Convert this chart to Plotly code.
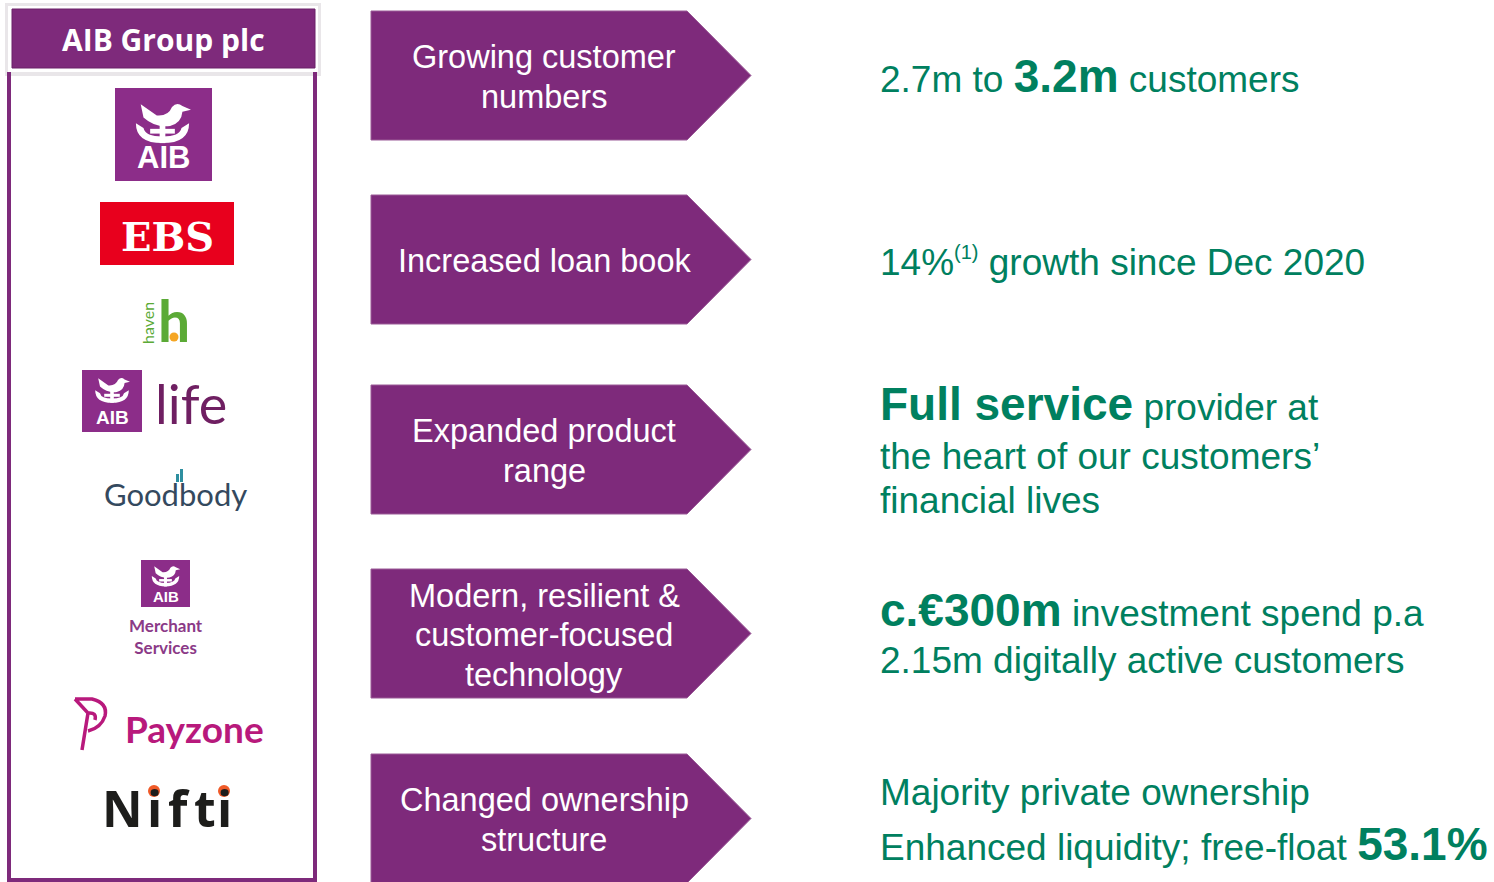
import plotly.graph_objects as go

W, H = 1494, 882
PURPLE = "#7E2A7B"
GREEN = "#00805F"
SANS = "Liberation Sans, Arial, sans-serif"

# ---------------- content ----------------
header_title = "AIB Group plc"

arrow_labels = [
    ["Growing customer", "numbers"],
    ["Increased loan book"],
    ["Expanded product", "range"],
    ["Modern, resilient &", "customer-focused", "technology"],
    ["Changed ownership", "structure"],
]

B = "<b><span style='font-size:46px'>{}</span></b>"
outcome_lines = [
    ["2.7m to " + B.format("3.2m") + " customers"],
    ["14%<sup><span style='font-size:20px'>(1)</span></sup> growth since Dec 2020"],
    [B.format("Full service") + " provider at", "the heart of our customers’", "financial lives"],
    [B.format("c.€300m") + " investment spend p.a", "2.15m digitally active customers"],
    ["Majority private ownership", "Enhanced liquidity; free-float " + B.format("53.1%")],
]

brand_names = ["AIB", "EBS", "haven", "life", "Goodbody", "Merchant<br>Services", "Payzone"]
nifti_letters = ["N", "i", "f", "t", "i"]

# ---------------- layout constants ----------------
arrow_tops = [11, 195, 385, 569, 754]
arrow_h = 129
arrow_x0, arrow_x1, arrow_tip = 371, 687, 751
arrow_text_x = 544
arrow_line_gap = 39.5

outcome_x = 878
outcome_y = [[76], [262], [404, 456, 500], [610, 660], [792, 844]]

shapes = []
annotations = []


def ann(x, y, text, size, color, family=SANS, xanchor="center", angle=0):
    annotations.append(dict(
        x=x, y=y, xref="x", yref="y", text=text, showarrow=False,
        xanchor=xanchor, yanchor="middle", textangle=angle,
        font=dict(size=size, color=color, family=family)))


def rect(x0, y0, x1, y1, fill, line=None, lw=0):
    shapes.append(dict(type="rect", xref="x", yref="y", x0=x0, y0=y0, x1=x1, y1=y1,
                       fillcolor=fill, line=dict(width=lw, color=line or fill), layer="above"))


def path(d, fill=None, line=None, lw=0):
    s = dict(type="path", xref="x", yref="y", path=d, layer="above",
             line=dict(width=lw, color=line or "rgba(0,0,0,0)"))
    if fill:
        s["fillcolor"] = fill
    shapes.append(s)


def circle(cx, cy, r, fill):
    shapes.append(dict(type="circle", xref="x", yref="y", x0=cx - r, y0=cy - r,
                       x1=cx + r, y1=cy + r, fillcolor=fill, line=dict(width=0), layer="above"))


def aib_mark(x0, y0, s):
    """White AIB ark-and-dove mark inside a square at (x0,y0) of size s."""
    def P(u, v):
        return f"{x0 + u * s:.1f},{y0 + v * s:.1f}"
    bird = (f"M {P(0.30,0.31)} Q {P(0.42,0.42)} {P(0.58,0.40)} Q {P(0.70,0.37)} {P(0.71,0.25)} "
            f"L {P(0.80,0.23)} L {P(0.71,0.19)} Q {P(0.65,0.14)} {P(0.60,0.20)} "
            f"Q {P(0.56,0.30)} {P(0.44,0.29)} L {P(0.27,0.17)} Z")
    boat = (f"M {P(0.22,0.37)} Q {P(0.22,0.58)} {P(0.50,0.58)} Q {P(0.78,0.58)} {P(0.78,0.37)} "
            f"L {P(0.70,0.42)} Q {P(0.68,0.51)} {P(0.50,0.51)} Q {P(0.32,0.51)} {P(0.30,0.42)} Z")
    path(bird, fill="white")
    path(boat, fill="white")
    rect(x0 + 0.47 * s, y0 + 0.37 * s, x0 + 0.53 * s, y0 + 0.58 * s, "white")
    rect(x0 + 0.37 * s, y0 + 0.43 * s, x0 + 0.63 * s, y0 + 0.48 * s, "white")


# ---------------- left panel ----------------
rect(5, 3, 321, 76, "#e9e6e9")
rect(8, 6, 318, 72, "#ffffff")
rect(12, 9, 315, 68, PURPLE, line="#6a2068", lw=1)
ann(163, 39, "<b>" + header_title + "</b>", 30, "white", family="Open Sans, sans-serif")

for xl in (9, 315):
    shapes.append(dict(type="line", xref="x", yref="y", x0=xl, x1=xl, y0=72, y1=882,
                       line=dict(color=PURPLE, width=4), layer="above"))
shapes.append(dict(type="line", xref="x", yref="y", x0=9, x1=315, y0=880, y1=880,
                   line=dict(color=PURPLE, width=4), layer="above"))

# AIB
rect(115, 88, 212, 181, "#8C2D89")
aib_mark(115, 88, 95)
ann(163, 157, "<b>" + brand_names[0] + "</b>", 31, "white", family=SANS)

# EBS
rect(100, 202, 234, 265, "#E8001D")
ann(167, 236, "<b>" + brand_names[1] + "</b>", 40, "white", family="DejaVu Serif, serif")

# haven
ann(174, 320, "<b>h</b>", 57, "#5BAA36", family="Lato, sans-serif")
circle(174, 337, 4.5, "#F5A623")
ann(147, 323, brand_names[2], 16, "#5BAA36", family="Lato, sans-serif", angle=-90)

# AIB life
rect(82, 370, 142, 432, "#8C2D89")
aib_mark(82, 368, 60)
ann(112, 417, "<b>" + brand_names[0] + "</b>", 19, "white", family=SANS)
ann(191, 403, brand_names[3], 54, "#6F1F62", family="Lato, sans-serif")

# Goodbody
ann(175, 494, brand_names[4], 31, "#34495E", family="Lato, sans-serif")
rect(176, 474, 179, 482, "#2E8FA0")
rect(180, 469, 183, 482, "#2E8FA0")

# AIB Merchant Services
rect(141, 560, 190, 607, "#8C2D89")
aib_mark(141, 558, 49)
ann(166, 596, "<b>" + brand_names[0] + "</b>", 15, "white", family=SANS)
ann(166, 636, "<b>" + brand_names[5] + "</b>", 17, "#8B3A87", family="Lato, sans-serif")

# Payzone
ann(194, 728, "<b>" + brand_names[6] + "</b>", 37, "#B8197C", family="Lato, sans-serif")
path("M 75,699 L 92,699 Q 108,703 105,716 Q 101,728 88,731 "
     "M 75,699 L 88,713 L 82,750 M 88,713 Q 97,712 95,720", line="#B8197C", lw=3.5)

# Nifti
nifti_x = [122, 154, 179, 205, 224]
for lx, letter in zip(nifti_x, nifti_letters):
    ann(lx, 808, "<b>" + letter + "</b>", 50, "#1d1d1b", family="Open Sans, sans-serif")
for lx, letter in zip(nifti_x, nifti_letters):
    if letter == "i":
        circle(lx, 791, 6, "#F05A28")

# ---------------- arrows ----------------
for top, lines in zip(arrow_tops, arrow_labels):
    mid = top + arrow_h / 2
    d = (f"M {arrow_x0},{top} L {arrow_x1},{top} L {arrow_tip},{mid} "
         f"L {arrow_x1},{top + arrow_h} L {arrow_x0},{top + arrow_h} Z")
    path(d, fill=PURPLE, line="#9A5A97", lw=1)
    n = len(lines)
    for i, t in enumerate(lines):
        y = mid + 1.5 + (i - (n - 1) / 2) * arrow_line_gap
        ann(arrow_text_x, y, t, 32.5, "white")

# ---------------- outcomes ----------------
for lines, ys in zip(outcome_lines, outcome_y):
    for t, y in zip(lines, ys):
        ann(outcome_x, y, t, 37, GREEN, xanchor="left")

fig = go.Figure()
fig.update_layout(
    width=W, height=H, margin=dict(l=0, r=0, t=0, b=0),
    paper_bgcolor="white", plot_bgcolor="white",
    xaxis=dict(range=[0, W], visible=False, fixedrange=True),
    yaxis=dict(range=[H, 0], visible=False, fixedrange=True),
    shapes=shapes, annotations=annotations, showlegend=False,
)
fig.write_html(
    "out.html",
    config={"displayModeBar": False},
    post_script="document.body.style.margin='0';document.body.style.overflow='hidden';",
)
